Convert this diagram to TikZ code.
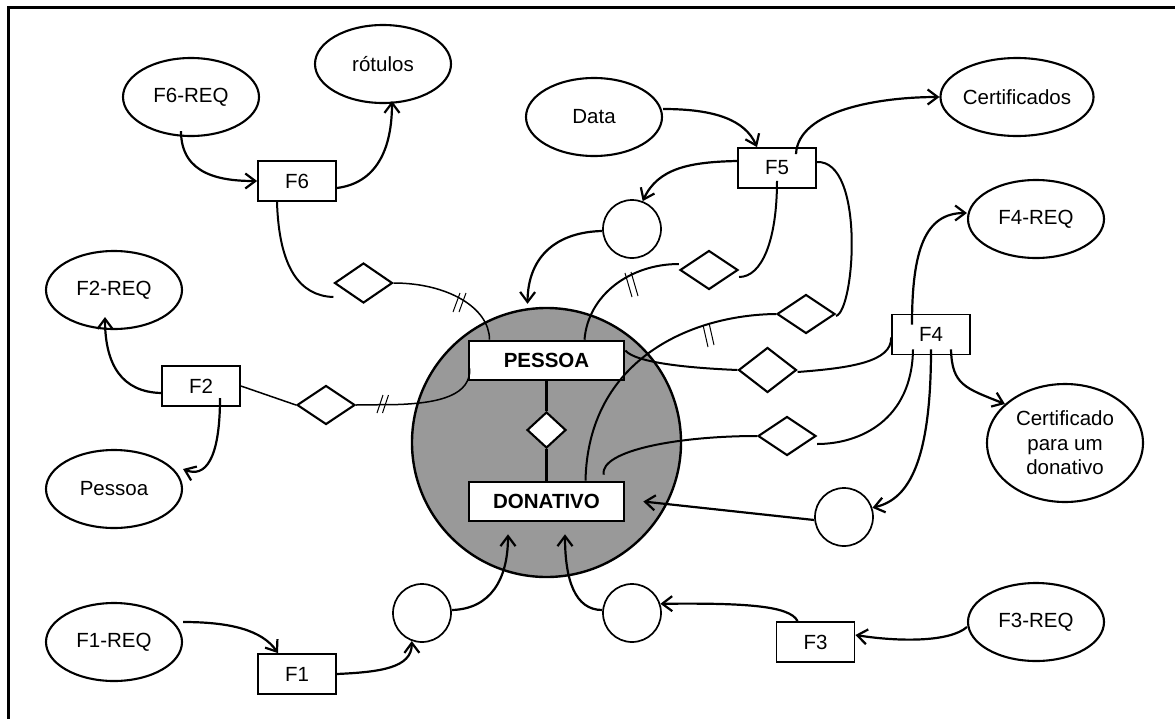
\documentclass[tikz,border=0pt]{standalone}
\usepackage{fontspec}
\setmainfont{Liberation Sans}
\usetikzlibrary{arrows.meta,shapes.geometric}
\begin{document}
\begin{tikzpicture}[x=1pt,y=-1pt,
  every node/.style={font=\fontsize{20.5}{24.5}\selectfont},
  ext/.style={ellipse, draw, line width=2.1pt, minimum width=136pt, minimum height=78pt, inner sep=0pt, fill=white},
  proc/.style={rectangle, draw, line width=1.8pt, minimum width=78pt, minimum height=40pt, inner sep=0pt, fill=white},
  store/.style={circle, draw, line width=1.7pt, minimum size=58pt, inner sep=0pt, fill=white},
  rel/.style={diamond, draw, line width=2.1pt, minimum width=58pt, minimum height=39pt, inner sep=0pt, fill=white},
  ent/.style={rectangle, draw, line width=2.6pt, minimum width=155pt, minimum height=39pt, inner sep=0pt, fill=white, font=\fontsize{20.5}{24}\selectfont\bfseries},
  link/.style={line width=2pt},
  thinlink/.style={line width=1.5pt},
  flow/.style={line width=2.2pt, -{Straight Barb[length=10pt,width=15pt,line width=2.2pt]}},
  tickmark/.style={line width=1pt}
]
\useasboundingbox (0,0) rectangle (1175,718);
\clip (0,0) rectangle (1175,718);

% outer frame
\draw[line width=3pt] (8,7) rectangle (1195,735);

% central subsystem
\node[circle, draw, fill=black!40, line width=2.4pt, minimum size=269pt, inner sep=0pt] (big) at (546.5,442.5) {};
\node[ent] (pessoa) at (546.5,360.5) {PESSOA};
\node[ent] (donativo) at (546.5,501.5) {DONATIVO};
\node[diamond, draw, fill=white, line width=2.1pt, minimum width=39pt, minimum height=36pt, inner sep=0pt] (dc) at (546.5,430) {};
\draw[line width=2.6pt] (pessoa.south) -- (dc.north);
\draw[line width=2.6pt] (dc.south) -- (donativo.north);

% external entities
\node[ext] (f6req) at (191,97) {F6-REQ};
\node[ext] (rotulos) at (383,64) {rótulos};
\node[ext] (f2req) at (114,290) {F2-REQ};
\node[ext] (pessoaext) at (114,489) {Pessoa};
\node[ext] (f1req) at (114,642) {F1-REQ};
\node[ext] (data) at (594,117) {Data};
\node[ext] (certs) at (1017,97) {Certificados};
\node[ext] (f4req) at (1036,219) {F4-REQ};
\node[ext, minimum width=156pt, minimum height=118pt, align=center] (certdon) at (1065,443) {Certificado\\para um\\donativo};
\node[ext] (f3req) at (1036,622) {F3-REQ};

% processes
\node[proc] (f6) at (297,181) {F6};
\node[proc] (f5) at (777,168) {F5};
\node[proc] (f2) at (201,386) {F2};
\node[proc] (f1) at (297,674) {F1};
\node[proc] (f4) at (931,334.5) {F4};
\node[proc] (f3) at (815.5,642) {F3};

% stores
\node[store] (ca) at (632,229) {};
\node[store] (cb) at (422,613) {};
\node[store] (cc) at (632,613) {};
\node[store] (cd) at (844,517) {};

% relationships
\node[rel, minimum height=40pt] (d6) at (363.5,283) {};
\node[rel] (d2) at (326,405) {};
\node[rel] (d5a) at (709,270) {};
\node[rel] (d5b) at (806,314) {};
\node[rel, minimum height=45pt] (d4a) at (767.5,370) {};
\node[rel] (d4b) at (787,436) {};

% F6
\draw[flow] ([xshift=-10pt,yshift=6pt]f6req.south) .. controls (181,176) and (223,181) .. (f6.west);
\draw[flow] ([yshift=-7pt]f6.east) .. controls (376,183) and (392,150) .. ([xshift=9pt,yshift=3pt]rotulos.south);
\draw[link] ([xshift=-20pt]f6.south) .. controls (279,268) and (300,296) .. ([yshift=-14pt]d6.west);
\draw[thinlink] (d6.east) .. controls (448,283) and (489.5,308) .. ([xshift=-57pt]pessoa.north);

% F2
\draw[flow] ([yshift=-7pt]f2.west) .. controls (122,392) and (105,365) .. ([xshift=-9pt,yshift=13pt]f2req.south);
\draw[flow] ([xshift=19pt,yshift=-12pt]f2.center) .. controls (220,460) and (205,478) .. ([yshift=20pt]pessoaext.east);
\draw[thinlink] (f2.east) -- (d2.west);
\draw[thinlink] (d2.east) -- (398,404.5) .. controls (440,403) and (471,395) .. ([xshift=2pt,yshift=13pt]pessoa.south west);

% F5
\draw[flow] ([yshift=8pt]data.east) .. controls (715,109) and (745,120) .. ([xshift=-20pt]f5.north);
\draw[flow] ([xshift=19pt,yshift=-7pt]f5.north) .. controls (798,110) and (880,97) .. (certs.west);
\draw[flow] ([yshift=7pt]f5.west) .. controls (690,162) and (658,168) .. (ca.69);
\draw[flow] ([yshift=-2pt]ca.west) .. controls (558,232) and (528,255) .. ([xshift=-19pt,yshift=3pt]big.north);
\draw[link] ([yshift=8pt]f5.south) .. controls (777,240) and (762,277) .. ([yshift=-7pt]d5a.east);
\draw[link] ([xshift=38pt]pessoa.north) .. controls (588,295) and (630,264) .. ([yshift=6pt]d5a.west);
\draw[link] ([yshift=6pt]f5.east) .. controls (865,160) and (855,310) .. ([yshift=-2pt]d5b.east);
\draw[link] (d5b.west) .. controls (690,315) and (588,360) .. ([xshift=39pt]donativo.north);

% F4
\draw[link] ([yshift=10pt]pessoa.east) .. controls (636,363) and (690,368) .. (d4a.west);
\draw[link] ([yshift=-2pt]d4a.east) .. controls (850,368) and (892,362) .. ([yshift=-3pt]f4.west);
\draw[flow] ([xshift=-19pt,yshift=10pt]f4.center) .. controls (912,250) and (925,213) .. ([yshift=6pt]f4req.west);
\draw[link] ([xshift=-18pt,yshift=6pt]f4.south) .. controls (912,420) and (860,444) .. ([yshift=-8pt]d4b.east);
\draw[link] (d4b.west) .. controls (680,436) and (600,450) .. ([xshift=57pt,yshift=6pt]donativo.north);
\draw[flow] ([yshift=6pt]f4.south) .. controls (931,470) and (905,500) .. (cd.18);
\draw[flow] ([xshift=20pt,yshift=6pt]f4.south) .. controls (952,385) and (965,388) .. (certdon.147);
\draw[flow] ([yshift=-3pt]cd.west) -- ([xshift=18pt]donativo.east);

% F3
\draw[flow] ([yshift=-5pt]f3req.west) .. controls (950,642) and (900,642) .. ([yshift=7pt]f3.east);
\draw[flow] ([xshift=-18pt]f3.north) .. controls (790,605) and (740,603) .. (cc.18);
\draw[flow] ([yshift=3pt]cc.west) .. controls (575,610) and (565,580) .. ([xshift=18.5pt,yshift=-12pt]donativo.south);

% F1
\draw[flow] ([yshift=20pt]f1req.east) .. controls (230,622) and (262,630) .. ([xshift=-19pt]f1.north);
\draw[flow] (f1.east) .. controls (380,672) and (412,668) .. (cb.-110);
\draw[flow] ([yshift=3pt]cb.east) .. controls (490,609) and (508,580) .. ([xshift=-38.5pt,yshift=-12pt]donativo.south);

% cardinality ticks
\draw[tickmark] (377,413) -- (383,395) (382.5,413) -- (388.5,395);
\draw[tickmark] (453,312) -- (460,293) (459,312) -- (466,293);
\draw[tickmark] (625,273) -- (632,297) (631,272) -- (638,296);
\draw[tickmark] (703,325) -- (708,347) (709,323) -- (714,345);
\end{tikzpicture}
\end{document}
